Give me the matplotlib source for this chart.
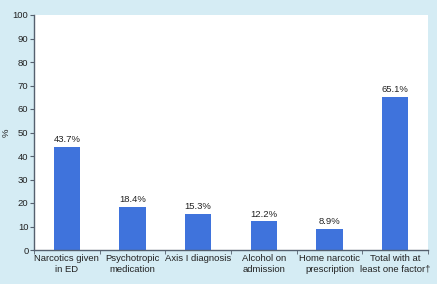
import matplotlib
matplotlib.use('Agg')
import matplotlib.pyplot as plt
import numpy as np

categories = ['Narcotics given\nin ED', 'Psychotropic\nmedication', 'Axis I diagnosis',
              'Alcohol on\nadmission', 'Home narcotic\nprescription', 'Total with at\nleast one factor\u2020']
values = [43.7, 18.4, 15.3, 12.2, 8.9, 65.1]

plt.rcParams['font.family'] = ['Liberation Sans', 'DejaVu Sans']

bg = '#d5ecf4'
spine = '#55606e'
fig = plt.figure(figsize=(4.37, 2.84), dpi=100, facecolor=bg)
ax = fig.add_axes([34/437, 34/284, 394/437, 235/284])
ax.set_facecolor('white')

x = np.arange(len(values))
ax.bar(x, values, width=0.4, color='#3f73dc')
for xi, v in zip(x, values):
    ax.text(xi, v + 1.2, '%.1f%%' % v, ha='center', va='bottom', fontsize=6.8, color='#222222')

ax.set_xlim(-0.5, len(values) - 0.5)
ax.set_ylim(0, 100)
ax.set_yticks(range(0, 101, 10))
ax.set_xticks(x)
ax.set_xticklabels(categories, fontsize=6.8, color='#222222')
ax.tick_params(axis='x', length=0, pad=3)
ax.set_xticks(np.arange(-0.5, len(values), 1), minor=True)
ax.tick_params(axis='x', which='minor', length=3, color=spine, direction='out')
ax.tick_params(axis='y', labelsize=6.8, labelcolor='#222222', length=3, color=spine, pad=1)
ax.set_ylabel('%', fontsize=6.8, color='#222222')
ax.yaxis.set_label_coords(-0.06, 0.5)

for s in ['top', 'right']:
    ax.spines[s].set_visible(False)
for s in ['left', 'bottom']:
    ax.spines[s].set_color(spine)
    ax.spines[s].set_linewidth(1.0)

fig.savefig('out.png', dpi=100, facecolor=bg)
